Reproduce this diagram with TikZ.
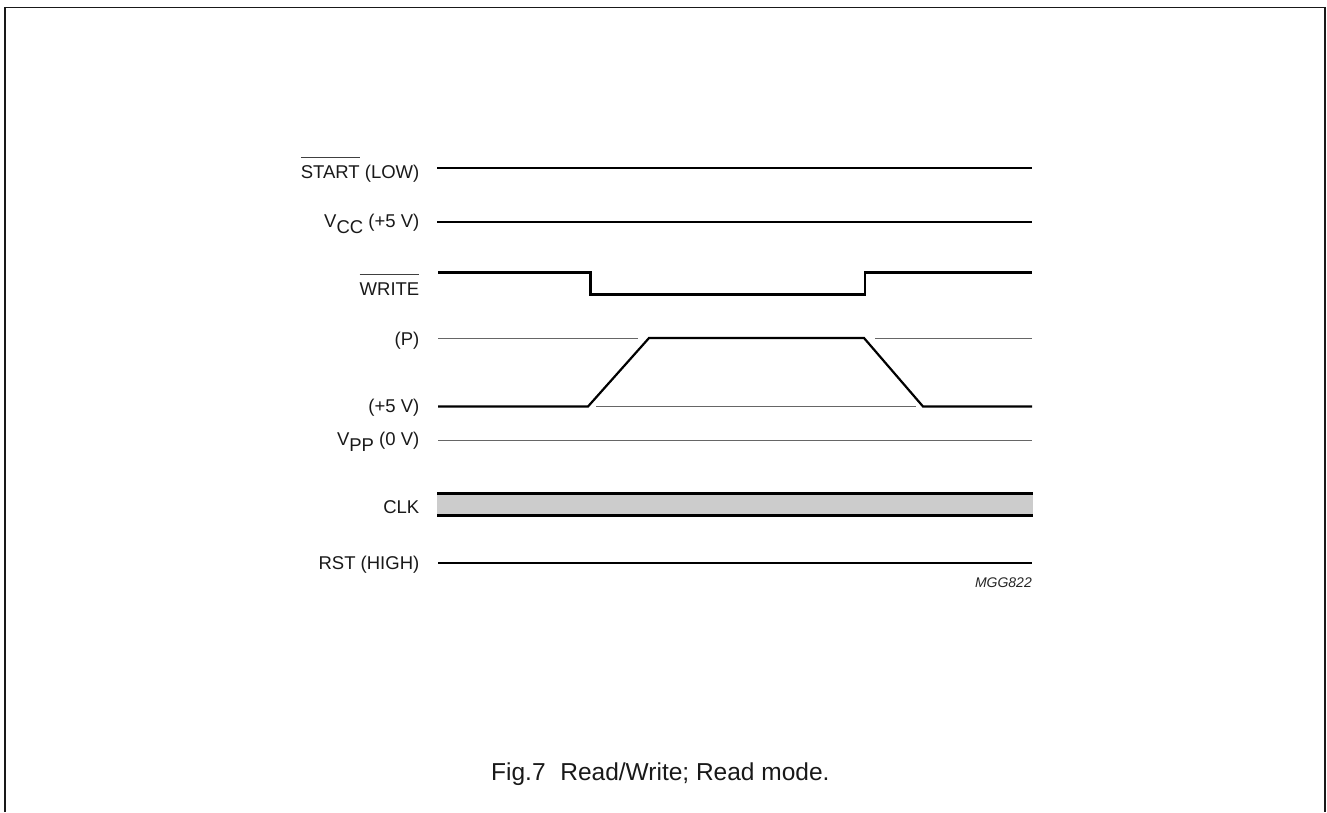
\documentclass[tikz,border=0pt]{standalone}
\usepackage{fontspec}
\setmainfont{Liberation Sans}
\tikzset{
 x=1pt,y=-1pt,
 heavy/.style={line width=2.2pt,black,line join=miter},
 thin line/.style={line width=1pt,black!60},
 lab/.style={anchor=base east,inner sep=0pt,font=\fontsize{18.5}{20}\selectfont,text=black!90},
}
\newsavebox{\ovlbox}
\newcommand{\ovl}[1]{\sbox{\ovlbox}{#1}\rlap{\raisebox{20.5pt}{\color{black!75}\rule{\wd\ovlbox}{1pt}}}\usebox{\ovlbox}}
\newcommand{\subs}[1]{\raisebox{-5.5pt}{#1}}
\begin{document}
\begin{tikzpicture}
\useasboundingbox (0,0) rectangle (1327,812);
\coordinate (fbl) at (5,812); \coordinate (ftl) at (5,7.5); \coordinate (ftr) at (1324.7,7.5); \coordinate (fbr) at (1324.7,812);
\draw[line width=1.8pt,black!90] (fbl) -- (ftl) -- (ftr) -- (fbr);
% labels
\node[lab] (l1) at (419.5,178.5) {\ovl{START} (LOW)};
\node[lab] (l2) at (419.5,227.5) {V\subs{CC} (+5 V)};
\node[lab] (l3) at (419.5,295) {\ovl{WRITE}};
\node[lab] (l4) at (419.5,345) {(P)};
\node[lab] (l5) at (419.5,412) {(+5 V)};
\node[lab] (l6) at (419.5,445.5) {V\subs{PP} (0 V)};
\node[lab] (l7) at (419.5,513) {CLK};
\node[lab] (l8) at (419.5,569) {RST (HIGH)};
\node[anchor=base east,inner sep=0pt,font=\fontsize{14}{15}\selectfont\itshape,text=black!85] (id) at (1032,587) {MGG822};
\node[anchor=base west,inner sep=0pt,font=\fontsize{24.5}{26}\selectfont,text=black!90] (cap) at (491,780) {Fig.7\hspace{0.6em}Read/Write; Read mode.};
% signals
\coordinate (a1) at (437,168); \coordinate (a2) at (1032,168);
\coordinate (b1) at (437,222); \coordinate (b2) at (1032,222);
\draw[heavy] (a1) -- (a2);
\draw[heavy] (b1) -- (b2);
\coordinate (w0) at (438,272.5); \coordinate (w1) at (590.5,272.5); \coordinate (w2) at (590.5,294.5);
\coordinate (w3) at (865,294.5); \coordinate (w4) at (865,272.5); \coordinate (w5) at (1032,272.5);
\draw[heavy] (w0) -- (w1) -- (w2) -- (w3) -- (w4) -- (w5);
\coordinate (pa) at (438,338); \coordinate (pb) at (638,338); \coordinate (pc) at (875,338); \coordinate (pd) at (1032,338);
\draw[thin line] (pa) -- (pb);
\draw[thin line] (pc) -- (pd);
\coordinate (fa) at (596,406.5); \coordinate (fb) at (916,406.5);
\draw[thin line] (fa) -- (fb);
\coordinate (v0) at (438,406.5); \coordinate (v1) at (588,406.5); \coordinate (v2) at (649,338); \coordinate (v3) at (864,338); \coordinate (v4) at (923,406.5); \coordinate (v5) at (1032,406.5);
\draw[heavy] (v0) -- (v1) -- (v2) -- (v3) -- (v4) -- (v5);
\coordinate (g1) at (438,440); \coordinate (g2) at (1032,440);
\draw[thin line] (g1) -- (g2);
\fill[black!20] (437,493) rectangle (1033,516);
\coordinate (c1) at (437,493.5); \coordinate (c2) at (1033,493.5);
\coordinate (c3) at (437,515.5); \coordinate (c4) at (1033,515.5);
\draw[heavy] (c1) -- (c2);
\draw[heavy] (c3) -- (c4);
\coordinate (r1) at (438,563); \coordinate (r2) at (1032,563);
\draw[heavy] (r1) -- (r2);
\end{tikzpicture}
\end{document}
